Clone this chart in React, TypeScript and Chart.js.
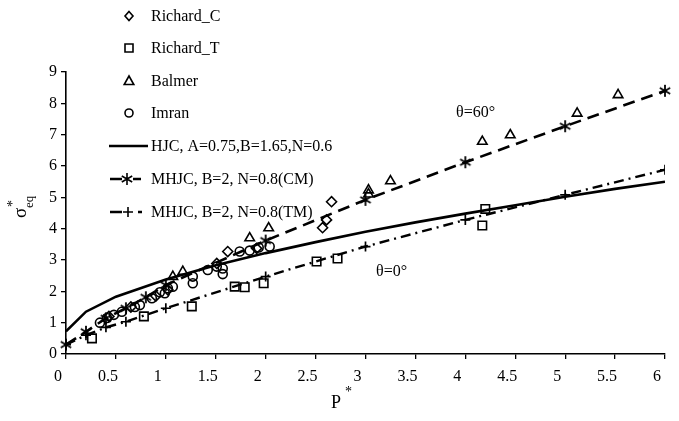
import React, { useEffect, useRef } from 'react';
import { Chart, registerables } from 'chart.js';

Chart.register(...registerables);

// ---- data ----
const richardC_P = [0.43, 0.65, 0.9, 1.02, 1.51, 1.62, 1.91, 2.57, 2.61, 2.66];
const richardC_S = [1.2, 1.5, 1.85, 2.05, 2.89, 3.27, 3.37, 4.03, 4.28, 4.86];

const richardT_P = [0.26, 0.78, 1.26, 1.69, 1.79, 1.98, 2.51, 2.72, 4.17, 4.2];
const richardT_S = [0.5, 1.2, 1.52, 2.15, 2.13, 2.26, 2.95, 3.05, 4.1, 4.63];

const balmer_P = [1.07, 1.17, 1.84, 2.03, 3.03, 3.03, 3.25, 4.17, 4.45, 5.12, 5.53];
const balmer_S = [2.47, 2.63, 3.7, 4.02, 5.23, 5.1, 5.52, 6.78, 6.99, 7.68, 8.27];

const imran_P = [0.34, 0.41, 0.48, 0.56, 0.69, 0.74, 0.86, 0.94, 0.99, 1.02, 1.07, 1.27, 1.27, 1.42, 1.51, 1.57, 1.57, 1.74, 1.84, 1.93, 2.04];
const imran_S = [1.0, 1.15, 1.25, 1.35, 1.5, 1.56, 1.78, 1.97, 1.94, 2.1, 2.15, 2.26, 2.47, 2.68, 2.79, 2.73, 2.55, 3.27, 3.3, 3.4, 3.43];

const hjc_P = [0, 0.2, 0.5, 1, 1.5, 2, 2.5, 3, 3.5, 4, 4.5, 5, 5.5, 6];
const hjc_S = [0.72, 1.35, 1.83, 2.38, 2.83, 3.22, 3.57, 3.9, 4.2, 4.48, 4.75, 5.02, 5.27, 5.5];

const cm_P = [0, 0.2, 0.4, 0.6, 0.8, 1, 2, 3, 4, 5, 6, 6.14];
const cm_S = [0.3, 0.71, 1.14, 1.46, 1.81, 2.2, 3.62, 4.92, 6.12, 7.27, 8.4, 8.57];

const tm_P = [0, 0.2, 0.4, 0.6, 1, 2, 3, 4, 5, 6];
const tm_S = [0.3, 0.6, 0.85, 1.03, 1.46, 2.47, 3.43, 4.28, 5.08, 5.88];

const legendLabels = [
  'Richard_C',
  'Richard_T',
  'Balmer',
  'Imran',
  'HJC, A=0.75,B=1.65,N=0.6',
  'MHJC, B=2, N=0.8(CM)',
  'MHJC, B=2, N=0.8(TM)',
];
const annotation60 = 'θ=60°';
const annotation0 = 'θ=0°';
const xTitle = 'P';
const yTitleMain = 'σ';
const yTitleSub = 'eq';
const starMark = '*';

const xMin = 0;
const xMax = 6;
const xStep = 0.5;
const yMin = 0;
const yMax = 9;
const yStep = 1;

const FONT = '"Liberation Serif", "Times New Roman", serif';

const pts = (xs: number[], ys: number[]) => xs.map((x, i) => ({ x, y: ys[i] }));

function traceAsterisk(ctx: CanvasRenderingContext2D, x: number, y: number, r: number) {
  for (let k = 0; k < 3; k++) {
    const a = (k * Math.PI) / 3 + Math.PI / 2;
    ctx.moveTo(x - Math.cos(a) * r, y - Math.sin(a) * r);
    ctx.lineTo(x + Math.cos(a) * r, y + Math.sin(a) * r);
  }
}

function makeAsteriskImage(): HTMLCanvasElement {
  const c = document.createElement('canvas');
  c.width = 14;
  c.height = 14;
  const g = c.getContext('2d')!;
  g.strokeStyle = '#000';
  g.lineWidth = 1.8;
  g.beginPath();
  traceAsterisk(g, 7, 7, 6);
  g.stroke();
  return c;
}

function drawMarker(ctx: CanvasRenderingContext2D, kind: string, x: number, y: number) {
  ctx.save();
  ctx.strokeStyle = '#000';
  ctx.lineWidth = 1.6;
  ctx.setLineDash([]);
  ctx.beginPath();
  if (kind === 'diamond') {
    ctx.moveTo(x, y - 4.5);
    ctx.lineTo(x + 4, y);
    ctx.lineTo(x, y + 4.5);
    ctx.lineTo(x - 4, y);
    ctx.closePath();
  } else if (kind === 'square') {
    ctx.rect(x - 4, y - 4, 8, 8);
  } else if (kind === 'triangle') {
    ctx.moveTo(x, y - 5);
    ctx.lineTo(x + 4.8, y + 3.5);
    ctx.lineTo(x - 4.8, y + 3.5);
    ctx.closePath();
  } else if (kind === 'circle') {
    ctx.arc(x, y, 4, 0, Math.PI * 2);
  } else if (kind === 'star') {
    traceAsterisk(ctx, x, y, 6);
  } else if (kind === 'plus') {
    ctx.moveTo(x - 5, y);
    ctx.lineTo(x + 5, y);
    ctx.moveTo(x, y - 5);
    ctx.lineTo(x, y + 5);
  }
  ctx.stroke();
  ctx.restore();
}

const overlayPlugin = {
  id: 'overlay',
  afterDraw(chart: any) {
    const ctx: CanvasRenderingContext2D = chart.ctx;
    ctx.save();
    ctx.fillStyle = '#000';
    ctx.textBaseline = 'middle';
    ctx.textAlign = 'left';
    ctx.font = `16px ${FONT}`;

    // legend
    const rows = [16, 48, 81, 113, 146, 179, 212];
    const textX = 151;
    const markerKinds = ['diamond', 'square', 'triangle', 'circle'];
    for (let i = 0; i < 4; i++) {
      drawMarker(ctx, markerKinds[i], 129, rows[i]);
      ctx.fillText(legendLabels[i], textX, rows[i] + 1);
    }
    // HJC solid line
    ctx.save();
    ctx.strokeStyle = '#000';
    ctx.lineWidth = 2.6;
    ctx.beginPath();
    ctx.moveTo(109, rows[4]);
    ctx.lineTo(148, rows[4]);
    ctx.stroke();
    ctx.restore();
    ctx.fillText(legendLabels[4], textX, rows[4] + 1);
    // CM dashed
    ctx.save();
    ctx.strokeStyle = '#000';
    ctx.lineWidth = 2.6;
    ctx.beginPath();
    ctx.moveTo(110, rows[5]);
    ctx.lineTo(122, rows[5]);
    ctx.moveTo(133, rows[5]);
    ctx.lineTo(141, rows[5]);
    ctx.stroke();
    ctx.restore();
    drawMarker(ctx, 'star', 127, rows[5]);
    ctx.fillText(legendLabels[5], textX, rows[5] + 1);
    // TM dash-dot
    ctx.save();
    ctx.strokeStyle = '#000';
    ctx.lineWidth = 2.6;
    ctx.beginPath();
    ctx.moveTo(110, rows[6]);
    ctx.lineTo(122, rows[6]);
    ctx.moveTo(138, rows[6]);
    ctx.lineTo(142, rows[6]);
    ctx.stroke();
    ctx.restore();
    drawMarker(ctx, 'plus', 128, rows[6]);
    ctx.fillText(legendLabels[6], textX, rows[6] + 1);

    // annotations
    ctx.font = `16px ${FONT}`;
    ctx.fillText(annotation60, 456, 113);
    ctx.fillText(annotation0, 376, 272);

    // x title
    ctx.font = `18px ${FONT}`;
    ctx.fillText(xTitle, 331, 403);
    ctx.font = `14px ${FONT}`;
    ctx.fillText(starMark, 345, 392);

    // y title (rotated)
    ctx.save();
    ctx.translate(21, 218);
    ctx.rotate(-Math.PI / 2);
    ctx.font = `19px ${FONT}`;
    ctx.fillText(yTitleMain, 0, 0);
    ctx.font = `13px ${FONT}`;
    ctx.fillText(yTitleSub, 10, 9);
    ctx.font = `14px ${FONT}`;
    ctx.fillText(starMark, 11, -8);
    ctx.restore();

    ctx.restore();
  },
};

export default function App() {
  const ref = useRef<HTMLCanvasElement | null>(null);

  useEffect(() => {
    if (!ref.current) return;
    const asterisk = makeAsteriskImage();
    const markerCommon = {
      borderColor: '#000',
      backgroundColor: 'rgba(255,255,255,0)',
      pointBorderWidth: 1.6,
      showLine: false,
    };
    const chart = new Chart(ref.current, {
      type: 'scatter',
      data: {
        datasets: [
          { ...markerCommon, label: legendLabels[0], data: pts(richardC_P, richardC_S), pointStyle: 'rectRot', pointRadius: 5 },
          { ...markerCommon, label: legendLabels[1], data: pts(richardT_P, richardT_S), pointStyle: 'rect', pointRadius: 6 },
          { ...markerCommon, label: legendLabels[2], data: pts(balmer_P, balmer_S), pointStyle: 'triangle', pointRadius: 5.5 },
          { ...markerCommon, label: legendLabels[3], data: pts(imran_P, imran_S), pointStyle: 'circle', pointRadius: 4.5 },
          {
            label: legendLabels[4],
            data: pts(hjc_P, hjc_S),
            showLine: true,
            borderColor: '#000',
            borderWidth: 2.6,
            pointRadius: 0,
            tension: 0,
          },
          {
            label: legendLabels[5],
            data: pts(cm_P, cm_S),
            showLine: true,
            borderColor: '#000',
            backgroundColor: 'rgba(0,0,0,0)',
            borderWidth: 2.6,
            borderDash: [12, 7],
            pointStyle: asterisk,
            pointRadius: cm_P.map((p) => (p > xMax ? 0 : 6)),
            clip: false,
            tension: 0,
          },
          {
            label: legendLabels[6],
            data: pts(tm_P, tm_S),
            showLine: true,
            borderColor: '#000',
            backgroundColor: 'rgba(0,0,0,0)',
            borderWidth: 2.4,
            borderDash: [10, 5, 2, 5],
            pointStyle: 'cross',
            pointRadius: 5,
            pointBorderWidth: 1.7,
            tension: 0,
          },
        ],
      },
      options: {
        responsive: false,
        animation: false,
        devicePixelRatio: 1,
        layout: { padding: { left: 0, right: 14, top: 72, bottom: 0 } },
        plugins: {
          legend: { display: false },
          tooltip: { enabled: false },
        },
        scales: {
          x: {
            type: 'linear',
            min: xMin,
            max: xMax,
            ticks: {
              stepSize: xStep,
              color: '#000',
              font: { family: FONT, size: 16 },
              padding: 8,
              labelOffset: -8,
              maxRotation: 0,
              autoSkip: false,
              callback: (v: any) => String(Math.round(Number(v) * 10) / 10),
            },
            grid: { display: true, drawOnChartArea: false, drawTicks: true, tickLength: 5, color: '#000', lineWidth: 1.3 },
            border: { display: true, color: '#000', width: 1.6 },
            afterFit: (scale: any) => {
              scale.height = 67;
            },
          },
          y: {
            type: 'linear',
            min: yMin,
            max: yMax,
            ticks: {
              stepSize: yStep,
              color: '#000',
              font: { family: FONT, size: 16 },
              padding: 4,
              callback: (v: any) => String(Math.round(Number(v))),
            },
            grid: { display: true, drawOnChartArea: false, drawTicks: true, tickLength: 5, color: '#000', lineWidth: 1.3 },
            border: { display: true, color: '#000', width: 1.6 },
            afterFit: (scale: any) => {
              scale.width = 66;
            },
          },
        },
      },
      plugins: [overlayPlugin],
    });
    return () => chart.destroy();
  }, []);

  return (
    <div style={{ position: 'absolute', left: 0, top: 0, width: 679, height: 421, background: '#fff' }}>
      <canvas ref={ref} width={679} height={421} style={{ display: 'block' }} />
    </div>
  );
}
